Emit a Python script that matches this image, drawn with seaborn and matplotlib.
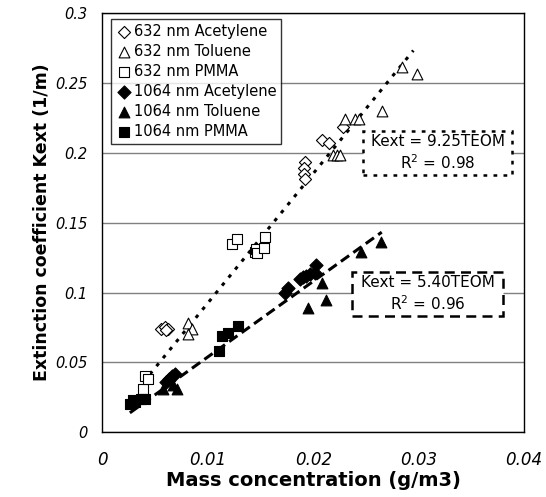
import numpy as np
import pandas as pd
import seaborn as sns
import matplotlib.pyplot as plt
from matplotlib.patches import Rectangle
from matplotlib.ticker import FuncFormatter, MultipleLocator

sns.set_style("white")
plt.rcParams['font.family'] = ['DejaVu Sans']
plt.rcParams['text.color'] = 'black'
plt.rcParams['axes.labelcolor'] = 'black'
plt.rcParams['xtick.color'] = 'black'
plt.rcParams['ytick.color'] = 'black'

# ---- data ----
ac632_x = [0.0056, 0.0059, 0.0062, 0.0060, 0.0192, 0.0191, 0.0191, 0.0192, 0.0208, 0.0215, 0.0228]
ac632_y = [0.074, 0.075, 0.074, 0.073, 0.193, 0.189, 0.185, 0.181, 0.209, 0.207, 0.218]

to632_x = [0.0081, 0.0085, 0.0081, 0.0219, 0.0223, 0.0225, 0.0230, 0.0240, 0.0243, 0.0265, 0.0284, 0.0298]
to632_y = [0.078, 0.074, 0.070, 0.198, 0.198, 0.198, 0.224, 0.224, 0.224, 0.230, 0.261, 0.256]

pm632_x = [0.0038, 0.0040, 0.0043, 0.0123, 0.0128, 0.0145, 0.0146, 0.0147, 0.0153, 0.0154]
pm632_y = [0.031, 0.040, 0.038, 0.135, 0.138, 0.129, 0.131, 0.128, 0.132, 0.140]

ac1064_x = [0.0060, 0.0063, 0.0066, 0.0069, 0.0173, 0.0176, 0.0187, 0.0190, 0.0193, 0.0197, 0.0202, 0.0203]
ac1064_y = [0.036, 0.038, 0.040, 0.042, 0.100, 0.103, 0.110, 0.111, 0.112, 0.113, 0.114, 0.120]

to1064_x = [0.0057, 0.0067, 0.0071, 0.0195, 0.0208, 0.0212, 0.0245, 0.0264]
to1064_y = [0.031, 0.034, 0.031, 0.089, 0.107, 0.095, 0.129, 0.136]

pm1064_x = [0.0026, 0.0029, 0.0031, 0.0037, 0.0040, 0.0111, 0.0113, 0.0119, 0.0129]
pm1064_y = [0.020, 0.023, 0.022, 0.024, 0.024, 0.058, 0.069, 0.071, 0.076]

fit632_slope, fit632_r2, fit632_range = 9.25, 0.98, (0.0045, 0.0295)
fit1064_slope, fit1064_r2, fit1064_range = 5.40, 0.96, (0.0026, 0.0265)

series = [
    ("632 nm Acetylene", ac632_x, ac632_y, "D", "white", 38),
    ("632 nm Toluene", to632_x, to632_y, "^", "white", 60),
    ("632 nm PMMA", pm632_x, pm632_y, "s", "white", 55),
    ("1064 nm Acetylene", ac1064_x, ac1064_y, "D", "black", 45),
    ("1064 nm Toluene", to1064_x, to1064_y, "^", "black", 60),
    ("1064 nm PMMA", pm1064_x, pm1064_y, "s", "black", 55),
]

fig = plt.figure(figsize=(5.46, 4.97), dpi=100)
ax = fig.add_axes([0.1877, 0.1298, 0.772, 0.845])

for name, xs, ys, mk, fc, size in series:
    df = pd.DataFrame({"x": xs, "y": ys})
    sns.scatterplot(data=df, x="x", y="y", marker=mk, s=size, facecolor=fc,
                    edgecolor="black", linewidth=0.8, label=name, ax=ax, zorder=4)

# fitted lines
x1 = np.linspace(*fit632_range, 2)
ax.plot(x1, fit632_slope * x1, color="black", lw=2.2, dashes=(1.2, 2.2), zorder=3)
x2 = np.linspace(*fit1064_range, 2)
ax.plot(x2, fit1064_slope * x2, color="black", lw=2.2, dashes=(3.3, 1.7), zorder=3)

# equation boxes
box1 = Rectangle((0.0247, 0.184), 0.0142, 0.0314, facecolor="white", edgecolor="black",
                 lw=1.8, linestyle=(0, (1.5, 2.5)), zorder=5)
box2 = Rectangle((0.0237, 0.0832), 0.0143, 0.0317, facecolor="white", edgecolor="black",
                 lw=1.8, linestyle=(0, (4, 2.5)), zorder=5)
ax.add_patch(box1)
ax.add_patch(box2)
ax.text(0.0318, 0.1997, "Kext = {:.2f}TEOM\nR$^2$ = {:.2f}".format(fit632_slope, fit632_r2),
        ha="center", va="center", fontsize=11, linespacing=1.3, zorder=6)
ax.text(0.03085, 0.099, "Kext = {:.2f}TEOM\nR$^2$ = {:.2f}".format(fit1064_slope, fit1064_r2),
        ha="center", va="center", fontsize=11, linespacing=1.3, zorder=6)

ax.set_xlim(0, 0.04)
ax.set_ylim(0, 0.3)
ax.xaxis.set_major_locator(MultipleLocator(0.01))
ax.yaxis.set_major_locator(MultipleLocator(0.05))
fmt = FuncFormatter(lambda v, p: "{:g}".format(round(v, 3)))
ax.xaxis.set_major_formatter(fmt)
ax.yaxis.set_major_formatter(fmt)
ax.yaxis.grid(True, color="#808080", lw=1)
ax.set_axisbelow(True)
for sp in ax.spines.values():
    sp.set_color("black")
    sp.set_linewidth(1)
ax.tick_params(axis="both", direction="out", length=5, width=1, color="black")
ax.tick_params(axis="x", labelsize=12, pad=8)
ax.tick_params(axis="y", labelsize=10.5, pad=6)
for lab in ax.get_xticklabels() + ax.get_yticklabels():
    lab.set_fontstyle("italic")

ax.set_xlabel("Mass concentration (g/m3)", fontsize=14, fontweight="bold", labelpad=2)
ax.set_ylabel("Extinction coefficient Kext (1/m)", fontsize=12.5, fontweight="bold", labelpad=3)

leg = ax.legend(loc="upper left", bbox_to_anchor=(0.0195, 0.984), borderaxespad=0,
                fontsize=10.5, frameon=True, fancybox=False, edgecolor="black",
                handletextpad=0.1, handlelength=1.2, labelspacing=0.35, borderpad=0.3)
leg.get_frame().set_linewidth(1)
leg.set_zorder(7)
for t in leg.get_texts():
    t.set_color("black")

fig.savefig("out.png", dpi=100)
